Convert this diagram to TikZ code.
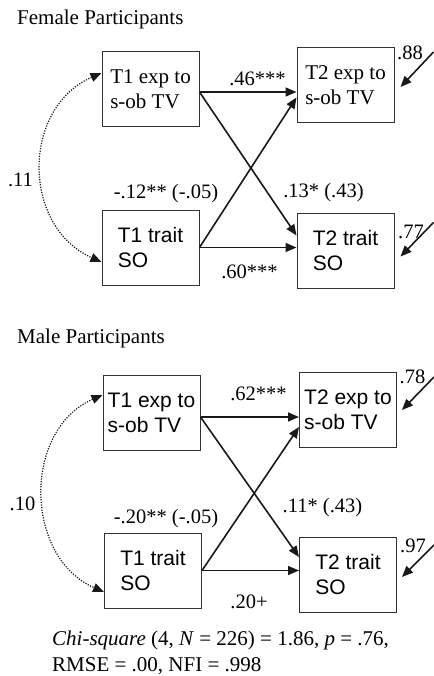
\documentclass[tikz,border=0pt]{standalone}
\usepackage{fontspec}
\setmainfont{Liberation Serif}
\setsansfont{Liberation Sans}
\usetikzlibrary{arrows.meta,calc}
\begin{document}
\begin{tikzpicture}[x=1pt,y=-1pt,
  box/.style={draw=black!80, line width=1pt, minimum width=97pt, minimum height=75pt, inner sep=0pt, align=left},
  rmbox/.style={box, font=\fontsize{21}{25}\selectfont},
  sfbox/.style={box, font=\fontsize{21}{25}\selectfont\sffamily},
  lab/.style={font=\fontsize{20.5}{24}\selectfont, anchor=base, inner sep=0pt},
  ttl/.style={font=\fontsize{21}{25}\selectfont, anchor=base west, inner sep=0pt},
  arr/.style={draw=black!90, line width=1.6pt, -{Triangle[length=11pt,width=9pt]}},
  cov/.style={draw=black!90, line width=1.2pt, dash pattern=on 1.2pt off 1.4pt, {Triangle[length=11pt,width=9pt]}-{Triangle[length=11pt,width=9pt]}}
]
\useasboundingbox (0,0) rectangle (433,676);

% ---------- Female ----------
\node[ttl] (ftitle) at (17,25) {Female Participants};
\node[rmbox] (t1e) at (150.5,89) {T1 exp to\\s-ob TV};
\node[rmbox] (t2e) at (345.5,85.5) {T2 exp to\\s-ob TV};
\node[sfbox] (t1t) at (150.5,247.5) {T1 trait\\SO};
\node[sfbox] (t2t) at (345.5,250.5) {T2 trait\\SO};

\coordinate (fs1) at ($(t1e.east)+(0,3)$);
\coordinate (fs2) at ($(t1t.east)+(0,0)$);
\draw[arr] (fs1) -- (fs1 -| t2e.west);
\draw[arr] (fs1) -- ($(t2t.west)+(0,-15)$);
\draw[arr] (fs2) -- ($(t2e.west)+(0,12)$);
\draw[arr] (fs2) -- (fs2 -| t2t.west);

\draw[cov] ($(t1e.west)+(0,-16)$) .. controls ($(t1e.west)+(-80,19)$) and ($(t1t.west)+(-80,-21)$) .. ($(t1t.west)+(0,14.5)$);

\coordinate (fe1) at ($(t2e.east)+(39,-33.5)$);
\coordinate (fe2) at ($(t2t.east)+(39,-28)$);
\draw[arr] (fe1) -- ($(t2e.east)+(6,1.5)$);
\draw[arr] (fe2) -- ($(t2t.east)+(6,6)$);

\node[lab] (fl1) at (257.5,86) {.46***};
\node[lab] (fl2) at (166,198) {-.12** (-.05)};
\node[lab] (fl3) at (323.5,197) {.13* (.43)};
\node[lab] (fl4) at (249.5,278) {.60***};
\node[lab] (fl5) at (20.5,187) {.11};
\node[lab] (fl6) at (410,60) {.88};
\node[lab] (fl7) at (411,238) {.77};

% ---------- Male ----------
\node[ttl] (mtitle) at (17,343) {Male Participants};
\node[sfbox] (m1e) at (151.5,412.5) {T1 exp to\\s-ob TV};
\node[sfbox] (m2e) at (348,409.5) {T2 exp to\\s-ob TV};
\node[sfbox] (m1t) at (153,570.5) {T1 trait\\SO};
\node[sfbox] (m2t) at (348,574.5) {T2 trait\\SO};

\coordinate (ms1) at ($(m1e.east)+(0,4.5)$);
\coordinate (ms2) at ($(m1t.east)+(0,0)$);
\draw[arr] (ms1) -- (ms1 -| m2e.west);
\draw[arr] (ms1) -- ($(m2t.west)+(0,-17.5)$);
\draw[arr] (ms2) -- ($(m2e.west)+(0,17.5)$);
\draw[arr] (ms2) -- (ms2 -| m2t.west);

\draw[cov] ($(m1e.west)+(0,-17.5)$) .. controls ($(m1e.west)+(-80,17.5)$) and ($(m1t.west)+(-80,-13.5)$) .. ($(m1t.west)+(0,21.5)$);

\coordinate (me1) at ($(m2e.east)+(37,-32.5)$);
\coordinate (me2) at ($(m2t.east)+(37,-29.5)$);
\draw[arr] (me1) -- ($(m2e.east)+(5,0.5)$);
\draw[arr] (me2) -- ($(m2t.east)+(5,2.5)$);

\node[lab] (ml1) at (258.5,400) {.62***};
\node[lab] (ml2) at (166,523) {-.20** (-.05)};
\node[lab] (ml3) at (322.5,512) {.11* (.43)};
\node[lab] (ml4) at (249,608) {.20+};
\node[lab] (ml5) at (22.5,510) {.10};
\node[lab] (ml6) at (412.5,383) {.78};
\node[lab] (ml7) at (413,552) {.97};

\node[ttl] (cap1) at (52,645) {\textit{Chi-square} (4, \textit{N} = 226) = 1.86, \textit{p} = .76,};
\node[ttl] (cap2) at (52,671) {RMSE = .00, NFI = .998};
\end{tikzpicture}
\end{document}
